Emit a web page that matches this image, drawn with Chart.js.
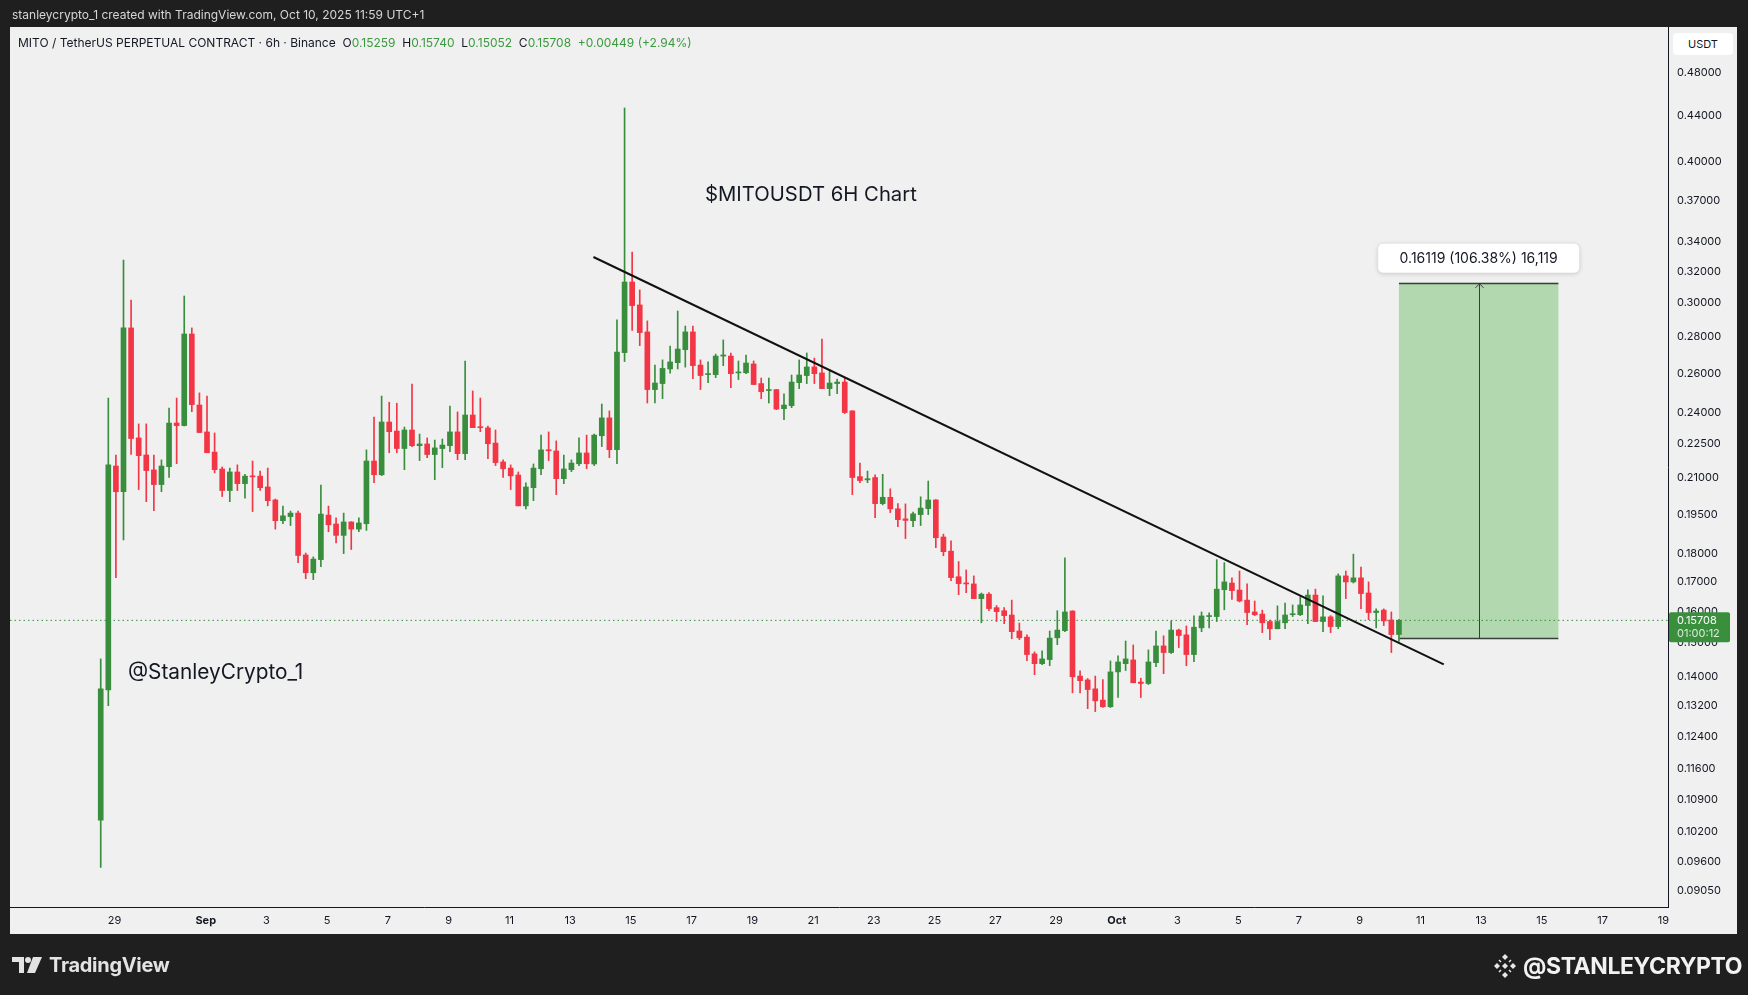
<!DOCTYPE html>
<html><head><meta charset="utf-8">
<script src="https://cdn.jsdelivr.net/npm/chart.js@4/dist/chart.umd.min.js"></script>
<style>
html,body{margin:0;padding:0;background:#1f1f1f;width:1748px;height:995px;overflow:hidden;font-family:'Inter','Liberation Sans',sans-serif;}
#panel{position:absolute;left:10px;top:27px;width:1727px;height:907px;background:#f0f0f0;}
#c{position:absolute;left:0;top:0;}
.t{position:absolute;white-space:nowrap;transform:translateY(-50%);}
.g{color:#3b9a3f;}
</style></head><body>
<div id="panel"></div>
<canvas id="c" width="1748" height="995"></canvas>
<div class="t" style="left:12px;top:14px;color:#d6d6d6;font-size:12px;">stanleycrypto_1 created with TradingView.com, Oct 10, 2025 11:59 UTC+1</div>
<div class="t" style="left:18px;top:42px;color:#131722;font-size:12px;">MITO / TetherUS PERPETUAL CONTRACT · 6h · Binance&nbsp;&nbsp;O<span class="g">0.15259</span>&nbsp;&nbsp;H<span class="g">0.15740</span>&nbsp;&nbsp;L<span class="g">0.15052</span>&nbsp;&nbsp;C<span class="g">0.15708</span>&nbsp;&nbsp;<span class="g">+0.00449 (+2.94%)</span></div>
<div style="position:absolute;left:1673px;top:33px;width:60px;height:22px;background:#fff;border-radius:4px;font-size:11px;color:#131722;line-height:22px;text-align:center;">USDT</div>
<div class="t" style="left:705px;top:193px;color:#131722;font-size:20.3px;">$MITOUSDT 6H Chart</div>
<div class="t" style="left:128px;top:671px;color:#131722;font-size:20.8px;">@StanleyCrypto_1</div>
<svg style="position:absolute;left:12px;top:957px" width="30" height="16" viewBox="0 0 30 16"><path d="M0 0h12v16H7V5H0z" fill="#e3e3e3"/><circle cx="16" cy="3" r="3" fill="#e3e3e3"/><path d="M21 0h9l-7 16h-8z" fill="#e3e3e3"/></svg>
<div class="t" style="left:49px;top:965px;color:#e3e3e3;font-size:20px;font-weight:700;letter-spacing:-0.3px;">TradingView</div>
<svg style="position:absolute;left:1494px;top:954px" width="22" height="24" viewBox="0 0 22 24"><g fill="#e8e8e8"><path d="M11 0l3 3-3 3-3-3z"/><path d="M11 18l3 3-3 3-3-3z"/><path d="M2 9l3 3-3 3-3-3z" transform="translate(1,0)"/><path d="M20 9l3 3-3 3-3-3z" transform="translate(-1,0)"/><path d="M11 9l3 3-3 3-3-3z"/><path d="M5.5 5.5l2 2-1 1-2-2z"/><path d="M16.5 5.5l-2 2 1 1 2-2z"/><path d="M5.5 18.5l2-2-1-1-2 2z"/><path d="M16.5 18.5l-2-2 1-1 2 2z"/></g></svg>
<div class="t" style="left:1523px;top:966px;color:#f2f2f2;font-size:23px;font-weight:700;letter-spacing:-0.4px;">@STANLEYCRYPTO</div>
<script>
// 6h candles, index 0 = Aug 28 13:00 (UTC+1), index 171 = Oct 10 07:00
const opens = [.1045,.1363,.2152,.2042,.2852,.2279,.2201,.2135,.2072,.2149,
.2349,.2337,.2817,.2437,.2307,.2214,.2139,.2047,.2126,.2076,
.2108,.2108,.2062,.2008,.1925,.1941,.1955,.1795,.1731,.1778,
.1947,.1912,.1868,.1920,.1892,.1913,.2174,.2114,.2354,.2311,
.2230,.2316,.2243,.2251,.2203,.2230,.2243,.2307,.2207,.2388,
.2330,.2326,.2255,.2170,.2143,.2113,.1984,.2059,.2140,.2224,
.2219,.2097,.2136,.2162,.2210,.2161,.2289,.2374,.2225,.2712,
.3132,.2989,.2829,.2515,.2546,.2623,.2657,.2728,.2829,.2644,
.2593,.2593,.2693,.2693,.2602,.2603,.2650,.2546,.2510,.2515,
.2419,.2434,.2551,.2588,.2634,.2602,.2520,.2546,.2554,.2408,
.2106,.2092,.2102,.1993,.2019,.1972,.1932,.1925,.1949,.1973,
.2008,.1862,.1809,.1717,.1695,.1692,.1642,.1657,.1612,.1602,
.1588,.1537,.1518,.1467,.1438,.1450,.1516,.1538,.1601,.1402,
.1391,.1366,.1335,.1317,.1414,.1438,.1449,.1385,.1381,.1441,
.1491,.1471,.1540,.1525,.1465,.1547,.1583,.1583,.1672,.1695,
.1671,.1637,.1598,.1591,.1567,.1544,.1563,.1589,.1589,.1619,
.1654,.1567,.1582,.1551,.1720,.1699,.1713,.1661,.1596,.1604,
.1572,.1526];
const highs = [.1452,.2472,.2201,.3276,.3019,.2345,.2345,.2201,.2179,.2422,
.2472,.3044,.2852,.2498,.2482,.2302,.2148,.2143,.2157,.2116,
.2174,.2130,.2143,.2012,.1983,.1963,.1963,.1802,.1788,.2070,
.1983,.1936,.1955,.1921,.1936,.2224,.2378,.2482,.2451,.2446,
.2330,.2544,.2297,.2279,.2269,.2274,.2432,.2403,.2665,.2508,
.2472,.2335,.2316,.2179,.2157,.2126,.2079,.2161,.2292,.2307,
.2265,.2201,.2179,.2279,.2292,.2297,.2442,.2408,.2899,.4467,
.3330,.3082,.2893,.2644,.2672,.2749,.2952,.2863,.2863,.2672,
.2661,.2704,.2783,.2710,.2666,.2699,.2666,.2575,.2575,.2516,
.2493,.2591,.2672,.2710,.2682,.2788,.2621,.2570,.2575,.2409,
.2165,.2130,.2114,.2116,.2054,.1993,.1992,.1959,.2021,.2087,
.2010,.1873,.1847,.1771,.1741,.1720,.1661,.1662,.1619,.1612,
.1637,.1562,.1525,.1473,.1476,.1537,.1602,.1784,.1602,.1417,
.1395,.1402,.1392,.1446,.1461,.1506,.1494,.1396,.1479,.1537,
.1522,.1569,.1543,.1553,.1585,.1598,.1595,.1778,.1767,.1713,
.1737,.1692,.1634,.1604,.1572,.1618,.1627,.1621,.1648,.1672,
.1674,.1651,.1586,.1727,.1737,.1798,.1751,.1699,.1608,.1608,
.1598,.1574];
const lows = [.0949,.1320,.1714,.1851,.2203,.2051,.2001,.1965,.2042,.2102,
.2162,.2335,.2404,.2304,.2211,.2122,.2022,.2001,.2047,.2015,
.1961,.2047,.1984,.1892,.1913,.1906,.1767,.1710,.1707,.1753,
.1882,.1840,.1800,.1815,.1882,.1887,.2080,.2110,.2211,.2211,
.2136,.2239,.2176,.2189,.2093,.2145,.2216,.2180,.2180,.2327,
.2308,.2185,.2154,.2102,.2051,.1984,.1972,.2005,.2114,.2176,
.2030,.2076,.2127,.2154,.2140,.2154,.2239,.2189,.2162,.2663,
.2837,.2751,.2447,.2447,.2469,.2601,.2623,.2633,.2572,.2515,
.2551,.2577,.2641,.2525,.2567,.2598,.2541,.2469,.2447,.2414,
.2365,.2424,.2520,.2546,.2546,.2520,.2484,.2494,.2395,.2030,
.2080,.2080,.1937,.1988,.1957,.1902,.1856,.1902,.1906,.1949,
.1822,.1792,.1703,.1655,.1662,.1642,.1563,.1602,.1567,.1560,
.1513,.1510,.1447,.1406,.1435,.1432,.1495,.1535,.1355,.1355,
.1312,.1304,.1315,.1315,.1342,.1418,.1383,.1342,.1378,.1429,
.1409,.1468,.1486,.1432,.1444,.1535,.1547,.1567,.1605,.1639,
.1631,.1557,.1586,.1532,.1510,.1544,.1544,.1583,.1586,.1560,
.1567,.1535,.1532,.1544,.1642,.1695,.1609,.1573,.1547,.1554,
.1471,.1505];
const closes = [.1366,.2157,.2042,.2852,.2276,.2198,.2132,.2072,.2152,.2349,
.2337,.2817,.2439,.2304,.2211,.2136,.2047,.2126,.2076,.2108,
.2105,.2059,.2005,.1925,.1944,.1955,.1793,.1731,.1780,.1951,
.1909,.1868,.1920,.1892,.1916,.2174,.2114,.2354,.2308,.2230,
.2316,.2243,.2251,.2203,.2233,.2246,.2307,.2207,.2388,.2327,
.2327,.2252,.2167,.2140,.2109,.1984,.2062,.2143,.2224,.2220,
.2097,.2139,.2165,.2210,.2162,.2292,.2374,.2225,.2715,.3132,
.2985,.2825,.2515,.2549,.2626,.2661,.2732,.2829,.2641,.2588,
.2598,.2693,.2699,.2598,.2607,.2655,.2541,.2504,.2515,.2417,
.2437,.2554,.2591,.2634,.2598,.2520,.2549,.2554,.2400,.2102,
.2089,.2097,.1993,.2019,.1972,.1929,.1926,.1952,.1975,.2008,
.1859,.1807,.1714,.1693,.1692,.1642,.1657,.1609,.1599,.1586,
.1535,.1516,.1465,.1438,.1452,.1515,.1540,.1598,.1400,.1389,
.1364,.1333,.1317,.1414,.1443,.1452,.1383,.1381,.1443,.1491,
.1471,.1540,.1523,.1465,.1549,.1585,.1586,.1674,.1699,.1669,
.1634,.1596,.1589,.1563,.1544,.1567,.1588,.1592,.1621,.1654,
.1567,.1582,.1551,.1720,.1699,.1713,.1659,.1596,.1601,.1569,
.1526,.1571];

// x ticks: day starts (00:00 local) in candle-index units
const xTickPos = [1.833,13.833,21.833,29.833,37.833,45.833,53.833,61.833,69.833,77.833,85.833,93.833,101.833,109.833,117.833,125.833,133.833,141.833,149.833,157.833,165.833,173.833,181.833,189.833,197.833,205.833];
const xTickLabels = ['29','Sep','3','5','7','9','11','13','15','17','19','21','23','25','27','29','Oct','3','5','7','9','11','13','15','17','19'];
const yTicks = [0.48,0.44,0.40,0.37,0.34,0.32,0.30,0.28,0.26,0.24,0.225,0.21,0.195,0.18,0.17,0.16,0.15,0.14,0.132,0.124,0.116,0.109,0.102,0.096,0.0905];

// trendline endpoints [index, price]
const trendStart = [64.9, 0.3296];
const trendEnd = [176.9, 0.1436];
// price range box
const boxX = [171, 192];
const boxPrices = [0.15152, 0.31271];
const boxLabel = '0.16119 (106.38%) 16,119';
const lastPrice = 0.15708;
const countdown = '01:00:12';

const X_MIN = -11.95, X_MAX = 206.44, Y_MIN = 0.08754, Y_MAX = 0.52689;
const UP = '#388e3c', DOWN = '#f23645';

const colors = opens.map((o,i)=> closes[i] >= o ? UP : DOWN);
const wickData = opens.map((o,i)=>({x:i, y:[lows[i], highs[i]]}));
const bodyData = opens.map((o,i)=>({x:i, y:[o, closes[i]]}));

const overlay = {
  id:'overlay',
  beforeDatasetsDraw(chart){
    const {ctx, scales:{x,y}} = chart;
    const x0 = x.getPixelForValue(boxX[0]), x1 = x.getPixelForValue(boxX[1]);
    const yT = y.getPixelForValue(boxPrices[1]), yB = y.getPixelForValue(boxPrices[0]);
    ctx.save();
    ctx.fillStyle = 'rgb(177,216,174)';
    ctx.fillRect(x0, yT, x1-x0, yB-yT);
    ctx.strokeStyle = '#3c3c3c'; ctx.lineWidth = 1.3;
    ctx.beginPath();
    ctx.moveTo(x0, Math.round(yT)+0.5); ctx.lineTo(x1, Math.round(yT)+0.5);
    ctx.moveTo(x0, Math.round(yB)+0.5); ctx.lineTo(x1, Math.round(yB)+0.5);
    ctx.stroke();
    const xm = Math.round((x0+x1)/2)+0.5;
    ctx.lineWidth = 1;
    ctx.beginPath();
    ctx.moveTo(xm, yB); ctx.lineTo(xm, yT+1);
    ctx.moveTo(xm-4, yT+5); ctx.lineTo(xm, yT+1); ctx.lineTo(xm+4, yT+5);
    ctx.stroke();
    ctx.restore();
  },
  afterDraw(chart){
    const {ctx, scales:{x,y}, chartArea} = chart;
    const x0 = x.getPixelForValue(boxX[0]), x1 = x.getPixelForValue(boxX[1]);
    const yT = y.getPixelForValue(boxPrices[1]);
    const xm = (x0+x1)/2;
    ctx.save();
    const w = 201, h = 29, bx = xm - w/2, by = yT - 39;
    ctx.shadowColor = 'rgba(0,0,0,0.18)'; ctx.shadowBlur = 5; ctx.shadowOffsetY = 1;
    ctx.fillStyle = '#ffffff';
    ctx.beginPath(); ctx.roundRect(bx, by, w, h, 5); ctx.fill();
    ctx.shadowColor = 'transparent';
    ctx.fillStyle = '#131722'; ctx.font = '14px Inter, "Liberation Sans", sans-serif';
    ctx.textAlign = 'center'; ctx.textBaseline = 'middle';
    ctx.fillText(boxLabel, xm, by + h/2 + 0.5);
    const yc = y.getPixelForValue(lastPrice);
    ctx.fillStyle = '#3a8f3d';
    ctx.beginPath(); ctx.roundRect(chartArea.right + 1, yc - 8, 61, 30, 2); ctx.fill();
    ctx.textAlign = 'left';
    ctx.font = '11px Inter, "Liberation Sans", sans-serif';
    ctx.fillStyle = '#ffffff';
    ctx.fillText(lastPrice.toFixed(5), chartArea.right + 9, yc);
    ctx.fillStyle = 'rgba(255,255,255,0.82)';
    ctx.fillText(countdown, chartArea.right + 9, yc + 13);
    ctx.restore();
  }
};

new Chart(document.getElementById('c'), {
  type:'bar',
  data:{
    datasets:[
      {label:'wick', data:wickData, backgroundColor:colors, barThickness:1, grouped:false, borderWidth:0, order:3},
      {label:'body', data:bodyData, backgroundColor:colors, barThickness:5, minBarLength:1, grouped:false, borderWidth:0, order:2},
      {type:'line', label:'trend', data:[{x:trendStart[0],y:trendStart[1]},{x:trendEnd[0],y:trendEnd[1]}], borderColor:'#111111', borderWidth:2, pointRadius:0, order:1},
      {type:'line', label:'last', data:[{x:X_MIN,y:lastPrice},{x:X_MAX,y:lastPrice}], borderColor:'#3a8f3d', borderWidth:1, borderDash:[1.5,3], pointRadius:0, order:4}
    ]
  },
  options:{
    responsive:false, animation:false, devicePixelRatio:1,
    layout:{padding:{left:10, top:27, right:11, bottom:61}},
    plugins:{legend:{display:false}, tooltip:{enabled:false}},
    scales:{
      x:{
        type:'linear', min:X_MIN, max:X_MAX, bounds:'data', offset:false,
        grid:{display:false, drawTicks:false},
        border:{display:true, color:'#131722', width:1},
        afterBuildTicks(s){ s.ticks = xTickPos.map(v=>({value:v})); s.min = X_MIN; s.max = X_MAX; },
        afterFit(s){ s.height = 27; },
        ticks:{
          autoSkip:false, maxRotation:0, padding:7, color:'#131722',
          font:(c)=>({family:'Inter, "Liberation Sans", sans-serif', size:11, weight:(xTickLabels[c.index]==='Sep'||xTickLabels[c.index]==='Oct')?'bold':'normal'}),
          callback:(v,i)=>xTickLabels[i]
        }
      },
      y:{
        type:'logarithmic', position:'right', min:Y_MIN, max:Y_MAX, bounds:'data',
        grid:{display:false, drawTicks:false},
        border:{display:true, color:'#131722', width:1},
        afterBuildTicks(s){ s.ticks = yTicks.map(v=>({value:v})); s.min = Y_MIN; s.max = Y_MAX; },
        afterFit(s){ s.width = 69; },
        ticks:{
          autoSkip:false, padding:9, color:'#131722',
          font:{family:'Inter, "Liberation Sans", sans-serif', size:11},
          callback:(v)=>Number(v).toFixed(5)
        }
      }
    }
  },
  plugins:[overlay]
});
</script>
</body></html>
